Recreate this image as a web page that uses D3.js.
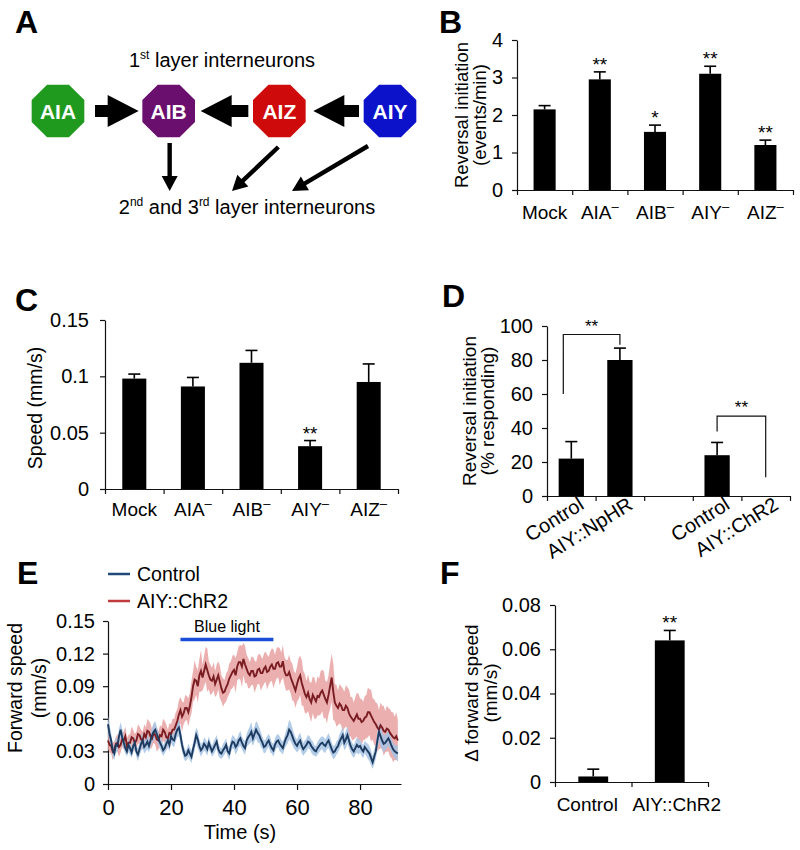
<!DOCTYPE html>
<html><head><meta charset="utf-8">
<script src="https://cdn.jsdelivr.net/npm/d3@7"></script>
<style>body{margin:0;background:#fff} svg{font-family:"Liberation Sans",Arial,Helvetica,sans-serif}</style>
</head><body><svg id="chart" width="800" height="850"></svg>
<script>
// ---------- DATA ----------
const neurons = ["AIA","AIB","AIZ","AIY"];
const neuronColors = ["#1f9a1f","#6a0f6e","#cf0a0a","#0b12c9"];

const bCategories = ["Mock","AIA⁻","AIB⁻","AIY⁻","AIZ⁻"];
const bValues = [2.15,2.95,1.55,3.1,1.2];
const bErrors = [0.1,0.2,0.18,0.2,0.13];
const bStars = ["","**","*","**","**"];
const bTicks = [0,1,2,3,4];

const cCategories = ["Mock","AIA⁻","AIB⁻","AIY⁻","AIZ⁻"];
const cValues = [0.098,0.091,0.112,0.038,0.095];
const cErrors = [0.004,0.008,0.011,0.005,0.016];
const cStars = ["","","","**",""];
const cTicks = [0,0.05,0.1,0.15];

const dCategories = ["Control","AIY::NpHR","","Control","AIY::ChR2"];
const dValues = [22,80,null,24,0];
const dErrors = [10,7,null,7.5,0];
const dTicks = [0,20,40,60,80,100];
// brackets: [leftIndex, rightIndex, leftLegBottom, top, rightLegBottom]
const dBrackets = [[0,1,60,95,89],[3,4,38,47,11]];

const eStep = 0.5; // seconds per sample
const controlMean = [
 0.055,0.046,0.04,0.031,0.028,0.036,0.035,0.044,0.05,0.043,0.038,0.033,0.03,0.036,0.033,0.029,0.035,0.038,0.03,0.027,
 0.032,0.037,0.04,0.034,0.036,0.039,0.035,0.04,0.045,0.048,0.05,0.046,0.042,0.038,0.035,0.031,0.033,0.037,0.04,0.036,
 0.044,0.041,0.04,0.046,0.05,0.052,0.045,0.036,0.03,0.026,0.027,0.031,0.028,0.025,0.032,0.038,0.045,0.041,0.035,0.031,
 0.033,0.037,0.035,0.032,0.038,0.034,0.03,0.033,0.036,0.039,0.032,0.029,0.028,0.031,0.033,0.036,0.03,0.028,0.035,0.039,
 0.038,0.034,0.036,0.04,0.042,0.038,0.035,0.033,0.04,0.043,0.045,0.048,0.042,0.046,0.05,0.047,0.045,0.041,0.038,0.034,
 0.035,0.038,0.04,0.036,0.033,0.031,0.036,0.039,0.04,0.037,0.035,0.033,0.038,0.042,0.045,0.05,0.048,0.044,0.04,0.037,
 0.035,0.038,0.04,0.035,0.032,0.034,0.036,0.039,0.038,0.035,0.033,0.031,0.03,0.033,0.035,0.037,0.038,0.036,0.035,0.038,
 0.04,0.036,0.032,0.029,0.03,0.033,0.035,0.039,0.042,0.045,0.038,0.041,0.045,0.04,0.035,0.032,0.03,0.033,0.036,0.034,
 0.035,0.032,0.03,0.034,0.032,0.03,0.028,0.024,0.02,0.025,0.03,0.04,0.048,0.044,0.04,0.037,0.038,0.04,0.042,0.039,
 0.035,0.032,0.03,0.029,0.028];
const controlSem = [
 0.008,0.008,0.007,0.006,0.006,0.007,0.006,0.007,0.007,0.008,0.006,0.005,0.005,0.006,0.006,0.005,0.006,0.006,0.005,0.006,
 0.006,0.007,0.007,0.006,0.006,0.007,0.006,0.006,0.007,0.008,0.008,0.007,0.006,0.006,0.006,0.005,0.005,0.006,0.006,0.006,
 0.006,0.006,0.006,0.007,0.007,0.008,0.008,0.006,0.006,0.005,0.005,0.006,0.006,0.006,0.006,0.007,0.007,0.008,0.006,0.006,
 0.005,0.006,0.006,0.006,0.006,0.005,0.005,0.006,0.006,0.006,0.006,0.005,0.005,0.006,0.006,0.006,0.005,0.006,0.006,0.006,
 0.006,0.007,0.006,0.006,0.007,0.006,0.006,0.006,0.006,0.007,0.008,0.009,0.007,0.007,0.008,0.009,0.007,0.007,0.006,0.006,
 0.006,0.006,0.006,0.007,0.005,0.006,0.006,0.006,0.006,0.007,0.006,0.006,0.006,0.007,0.008,0.009,0.009,0.008,0.007,0.006,
 0.006,0.007,0.007,0.007,0.006,0.006,0.006,0.006,0.006,0.006,0.006,0.005,0.005,0.006,0.006,0.006,0.006,0.007,0.006,0.006,
 0.007,0.007,0.006,0.006,0.006,0.006,0.006,0.007,0.007,0.008,0.007,0.008,0.008,0.007,0.006,0.006,0.006,0.006,0.007,0.007,
 0.006,0.006,0.006,0.006,0.006,0.007,0.007,0.007,0.006,0.007,0.007,0.008,0.009,0.009,0.008,0.008,0.007,0.007,0.007,0.007,
 0.006,0.006,0.006,0.007,0.007];
const chr2Mean = [
 0.04,0.036,0.035,0.03,0.032,0.037,0.038,0.034,0.036,0.041,0.04,0.044,0.035,0.038,0.038,0.043,0.042,0.038,0.04,0.046,
 0.045,0.041,0.04,0.046,0.043,0.049,0.048,0.044,0.042,0.047,0.045,0.041,0.04,0.045,0.044,0.05,0.048,0.043,0.042,0.047,
 0.046,0.05,0.05,0.054,0.058,0.064,0.068,0.062,0.065,0.07,0.07,0.066,0.072,0.08,0.09,0.096,0.095,0.09,0.1,0.104,
 0.098,0.104,0.11,0.105,0.1,0.096,0.095,0.099,0.092,0.096,0.1,0.094,0.088,0.084,0.085,0.089,0.092,0.097,0.1,0.103,
 0.105,0.1,0.108,0.112,0.112,0.108,0.115,0.11,0.106,0.102,0.1,0.104,0.104,0.099,0.1,0.105,0.106,0.102,0.102,0.106,
 0.108,0.103,0.104,0.108,0.11,0.106,0.106,0.111,0.112,0.108,0.108,0.113,0.104,0.1,0.1,0.103,0.098,0.094,0.09,0.086,
 0.092,0.097,0.1,0.093,0.088,0.083,0.08,0.084,0.078,0.075,0.082,0.079,0.076,0.081,0.08,0.084,0.086,0.082,0.078,0.075,
 0.082,0.09,0.098,0.085,0.075,0.072,0.07,0.074,0.072,0.068,0.068,0.072,0.07,0.065,0.062,0.06,0.058,0.061,0.064,0.06,
 0.06,0.057,0.058,0.061,0.062,0.066,0.066,0.063,0.06,0.057,0.055,0.052,0.05,0.054,0.052,0.049,0.048,0.051,0.05,0.047,
 0.045,0.043,0.042,0.044,0.04];
const chr2Sem = [
 0.008,0.007,0.007,0.008,0.007,0.006,0.008,0.009,0.007,0.007,0.008,0.009,0.007,0.007,0.008,0.01,0.008,0.008,0.008,0.009,
 0.008,0.009,0.008,0.009,0.009,0.011,0.01,0.012,0.008,0.009,0.009,0.011,0.008,0.009,0.009,0.01,0.01,0.012,0.008,0.009,
 0.009,0.01,0.01,0.012,0.011,0.013,0.012,0.014,0.01,0.012,0.011,0.013,0.012,0.015,0.014,0.018,0.013,0.015,0.015,0.019,
 0.012,0.014,0.016,0.02,0.013,0.014,0.012,0.013,0.012,0.014,0.013,0.015,0.012,0.013,0.011,0.013,0.012,0.014,0.013,0.015,
 0.014,0.016,0.013,0.015,0.016,0.019,0.015,0.017,0.013,0.014,0.012,0.013,0.013,0.015,0.012,0.013,0.014,0.016,0.013,0.014,
 0.014,0.016,0.013,0.014,0.015,0.018,0.013,0.014,0.014,0.017,0.013,0.015,0.013,0.014,0.014,0.016,0.015,0.017,0.014,0.016,
 0.016,0.019,0.018,0.021,0.016,0.018,0.015,0.017,0.016,0.018,0.017,0.019,0.016,0.018,0.017,0.02,0.019,0.022,0.017,0.019,
 0.018,0.021,0.022,0.026,0.017,0.019,0.016,0.018,0.018,0.02,0.017,0.019,0.019,0.022,0.018,0.02,0.017,0.019,0.02,0.023,
 0.019,0.021,0.018,0.02,0.02,0.023,0.021,0.024,0.019,0.021,0.02,0.022,0.018,0.021,0.02,0.023,0.019,0.021,0.02,0.022,
 0.021,0.023,0.02,0.022,0.019];
const eXTicks = [0,20,40,60,80];
const eYTicks = [0,0.03,0.06,0.09,0.12,0.15];
const blueLight = [23,52.5];
const blueLightLevel = 0.133;
const eSeries = ["Control","AIY::ChR2"];

const fCategories = ["Control","AIY::ChR2"];
const fValues = [0.0025,0.064];
const fErrors = [0.0033,0.0045];
const fStars = ["","**"];
const fTicks = [0,0.02,0.04,0.06,0.08];

// ---------- HELPERS ----------
const svg = d3.select("#chart");
function letter(t,x,y){
  svg.append("text").attr("x",x).attr("y",y).attr("font-size",32).attr("font-weight","bold").text(t);
}
function yLabel(lines, xs, cy, size){
  lines.forEach((l,i)=>svg.append("text")
    .attr("transform",`translate(${xs[i]},${cy}) rotate(-90)`)
    .attr("text-anchor","middle").attr("font-size",size).text(l));
}
function setLabel(sel,label){
  const parts = label.split("⁻");
  sel.text(parts[0]);
  if(parts.length>1){
    sel.append("tspan").attr("dy",-8).attr("font-size",13).text("–");
  }
}
function styleAxis(g){
  g.selectAll("path.domain").attr("stroke","#111").attr("stroke-width",1.2);
  g.selectAll(".tick line").attr("stroke","#111").attr("stroke-width",1.2);
  g.selectAll("text").attr("fill","#000").attr("font-family","'Liberation Sans',Arial,sans-serif");
}

function barChart(o){
  const n = o.cats.length;
  const x = d3.scaleBand().domain(d3.range(n)).range(o.xr);
  const xb = d3.scaleLinear().domain([0,n]).range(o.xr);
  const y = d3.scaleLinear().domain(o.ydom).range(o.yr);
  const gy = svg.append("g").attr("transform",`translate(${o.xr[0]},0)`)
    .call(d3.axisLeft(y).tickValues(o.yticks).tickFormat(o.yfmt).tickSizeInner(5).tickSizeOuter(0).tickPadding(o.ypad||9));
  gy.selectAll("text").attr("font-size",o.yfs||20);
  styleAxis(gy);
  const gx = svg.append("g").attr("transform",`translate(0,${o.yr[0]})`)
    .call(d3.axisBottom(xb).tickValues(d3.range(n+1)).tickFormat("").tickSizeInner(5).tickSizeOuter(0));
  styleAxis(gx);
  if(!o.rotate){
    const gl = svg.append("g").attr("transform",`translate(0,${o.yr[0]})`)
      .call(d3.axisBottom(x).tickSize(0).tickPadding(o.xpad||15).tickFormat(i=>o.cats[i]));
    gl.select("path.domain").remove();
    gl.selectAll("text").attr("font-size",o.xfs||19).each(function(i){ setLabel(d3.select(this),o.cats[i]); });
    if(o.labelShift) gl.selectAll("text").attr("dx",i=>o.labelShift[i]);
    styleAxis(gl);
  } else {
    svg.append("g").selectAll("text").data(d3.range(n).filter(i=>o.cats[i])).join("text")
      .attr("transform",i=>`translate(${x(i)+x.bandwidth()/2+o.rotate.dx},${o.yr[0]+o.rotate.dy}) rotate(${o.rotate.angle})`)
      .attr("text-anchor","end").attr("font-size",o.xfs||19).text(i=>o.cats[i]);
  }
  const bw = x.bandwidth()*o.barFrac;
  const idx = d3.range(n).filter(i=>o.vals[i]!==null);
  svg.append("g").selectAll("rect").data(idx).join("rect")
    .attr("x",i=>x(i)+(x.bandwidth()-bw)/2).attr("width",bw)
    .attr("y",i=>y(o.vals[i])).attr("height",i=>y(0)-y(o.vals[i])).attr("fill","#000");
  const eg = svg.append("g").attr("stroke","#000").attr("stroke-width",1.6);
  idx.filter(i=>o.errs[i]>0).forEach(i=>{
    const cx = x(i)+x.bandwidth()/2;
    eg.append("line").attr("x1",cx).attr("x2",cx).attr("y1",y(o.vals[i])).attr("y2",y(o.vals[i]+o.errs[i]));
    eg.append("line").attr("x1",cx-6).attr("x2",cx+6).attr("y1",y(o.vals[i]+o.errs[i])).attr("y2",y(o.vals[i]+o.errs[i]));
  });
  if(o.stars){
    svg.append("g").selectAll("text").data(idx.filter(i=>o.stars[i])).join("text")
      .attr("x",i=>x(i)+x.bandwidth()/2).attr("y",i=>y(o.vals[i]+o.errs[i])-1)
      .attr("text-anchor","middle").attr("font-size",19).text(i=>o.stars[i]);
  }
  return {x,y};
}

// ---------- PANEL A ----------
letter("A",15,33);
const px = d3.scalePoint().domain(neurons).range([58,390]);
const cyA = 111, rOct = 28.5;
function octagon(cx,cy,r){
  return d3.range(8).map(k=>{const a=(22.5+45*k)*Math.PI/180; return [cx+r*Math.cos(a), cy+r*Math.sin(a)];});
}
function blockArrow(x1,y1,x2,y2,sw,hw,hl,fill){
  const dx=x2-x1, dy=y2-y1, L=Math.hypot(dx,dy), ux=dx/L, uy=dy/L, nx=-uy, ny=ux;
  const bx=x2-ux*hl, by=y2-uy*hl;
  const pts=[[x1+nx*sw,y1+ny*sw],[bx+nx*sw,by+ny*sw],[bx+nx*hw,by+ny*hw],[x2,y2],[bx-nx*hw,by-ny*hw],[bx-nx*sw,by-ny*sw],[x1-nx*sw,y1-ny*sw]];
  svg.append("polygon").attr("points",pts.map(p=>p.join(",")).join(" ")).attr("fill",fill||"#000");
}
const tA1 = svg.append("text").attr("x",222).attr("y",67).attr("text-anchor","middle").attr("font-size",20);
tA1.append("tspan").text("1");
tA1.append("tspan").attr("dy",-8).attr("font-size",12).text("st");
tA1.append("tspan").attr("dy",8).text(" layer interneurons");
neurons.forEach((nm,i)=>{
  svg.append("polygon").attr("points",octagon(px(nm),cyA,rOct).map(p=>p.join(",")).join(" ")).attr("fill",neuronColors[i]);
  svg.append("text").attr("x",px(nm)).attr("y",cyA+7.5).attr("text-anchor","middle").attr("font-size",21)
    .attr("font-weight","bold").attr("fill","#fff").text(nm);
});
blockArrow(px("AIA")+37,cyA,px("AIB")-30,cyA,6,16,31);
blockArrow(px("AIZ")-31,cyA,px("AIB")+32,cyA,6,16,31);
blockArrow(px("AIY")-31,cyA,px("AIZ")+34,cyA,6,16,31);
blockArrow(px("AIB")+1,143,px("AIB")+1,191,2.2,8,15);
blockArrow(px("AIZ")-1,147,232,191,2.2,8,15);
blockArrow(px("AIY")-22,146,292,191,2.2,8,15);
const tA2 = svg.append("text").attr("x",247).attr("y",214).attr("text-anchor","middle").attr("font-size",20);
tA2.append("tspan").text("2");
tA2.append("tspan").attr("dy",-8).attr("font-size",12).text("nd");
tA2.append("tspan").attr("dy",8).text(" and 3");
tA2.append("tspan").attr("dy",-8).attr("font-size",12).text("rd");
tA2.append("tspan").attr("dy",8).text(" layer interneurons");

// ---------- PANEL B ----------
letter("B",439,33);
barChart({cats:bCategories, vals:bValues, errs:bErrors, stars:bStars, xr:[517,793], yr:[190,40],
  ydom:[0,4], yticks:bTicks, yfmt:d3.format("d"), barFrac:0.4, xpad:16});
yLabel(["Reversal initiation","(events/min)"],[468,486],115,18.5);

// ---------- PANEL C ----------
letter("C",15,311);
barChart({cats:cCategories, vals:cValues, errs:cErrors, stars:cStars, xr:[105,398], yr:[489,320],
  ydom:[0,0.15], yticks:cTicks, yfmt:d=>d===0?"0":String(d), barFrac:0.41, ypad:11, xpad:14});
yLabel(["Speed (mm/s)"],[42],408,19.5);

// ---------- PANEL D ----------
letter("D",442,307);
const dS = barChart({cats:dCategories, vals:dValues, errs:dErrors, xr:[547,790], yr:[496,326],
  ydom:[0,100], yticks:dTicks, yfmt:d3.format("d"), barFrac:0.52,
  rotate:{angle:-32, dx:14, dy:12}, xfs:20});
dBrackets.forEach(b=>{
  const xl = dS.x(b[0])+dS.x.bandwidth()/2 - (b[0]===0?8:0);
  const xr2 = dS.x(b[1])+dS.x.bandwidth()/2;
  svg.append("path").attr("d",`M${xl},${dS.y(b[2])}V${dS.y(b[3])}H${xr2}V${dS.y(b[4])}`)
    .attr("fill","none").attr("stroke","#111").attr("stroke-width",1.2);
  svg.append("text").attr("x",(xl+xr2)/2).attr("y",dS.y(b[3])-3).attr("text-anchor","middle").attr("font-size",17).text("**");
});
yLabel(["Reversal initiation","(% responding)"],[476,494],411,19);

// ---------- PANEL E ----------
letter("E",17,584);
const ex = d3.scaleLinear().domain([0,93]).range([108,401]);
const ey = d3.scaleLinear().domain([0,0.15]).range([784,621]);
const eT = controlMean.map((_,i)=>i*eStep);
const gEy = svg.append("g").attr("transform",`translate(${ex(0)},0)`)
  .call(d3.axisLeft(ey).tickValues(eYTicks).tickFormat(d=>d===0?"0":d3.format(".2f")(d)).tickSizeInner(5).tickSizeOuter(0).tickPadding(8));
gEy.selectAll("text").attr("font-size",20);
styleAxis(gEy);
const gEx = svg.append("g").attr("transform",`translate(0,${ey(0)})`)
  .call(d3.axisBottom(ex).tickValues(eXTicks).tickFormat(d3.format("d")).tickSizeInner(6).tickSizeOuter(0).tickPadding(9));
gEx.selectAll("text").attr("font-size",22);
styleAxis(gEx);
const areaGen = (m,s)=>d3.area().x((d,i)=>ex(eT[i])).y0((d,i)=>ey(m[i]-s[i])).y1((d,i)=>ey(m[i]+s[i]))(m);
const lineGen = m=>d3.line().x((d,i)=>ex(eT[i])).y((d,i)=>ey(m[i]))(m);
svg.append("path").attr("d",areaGen(chr2Mean,chr2Sem)).attr("fill","#e9a1a1").attr("opacity",0.85);
svg.append("path").attr("d",areaGen(controlMean,controlSem)).attr("fill","#a6c3e4").attr("opacity",0.85);
svg.append("path").attr("d",lineGen(chr2Mean)).attr("fill","none").attr("stroke","#7a1d22").attr("stroke-width",1.9);
svg.append("path").attr("d",lineGen(controlMean)).attr("fill","none").attr("stroke","#1d3a5f").attr("stroke-width",1.9);
svg.append("line").attr("x1",ex(blueLight[0])).attr("x2",ex(blueLight[1])).attr("y1",ey(blueLightLevel)).attr("y2",ey(blueLightLevel))
  .attr("stroke","#1a4ed8").attr("stroke-width",3.5);
svg.append("text").attr("x",(ex(blueLight[0])+ex(blueLight[1]))/2).attr("y",ey(blueLightLevel)-7).attr("text-anchor","middle").attr("font-size",16).text("Blue light");
const legColors = ["#1f4a7a","#c0393b"];
eSeries.forEach((s,i)=>{
  const yy = 574 + i*27;
  svg.append("line").attr("x1",108).attr("x2",130).attr("y1",yy).attr("y2",yy).attr("stroke",legColors[i]).attr("stroke-width",2.5);
  svg.append("text").attr("x",137).attr("y",yy+7).attr("font-size",19.5).text(s);
});
svg.append("text").attr("x",240).attr("y",839).attr("text-anchor","middle").attr("font-size",20).text("Time (s)");
yLabel(["Forward speed","(mm/s)"],[22,46],688,19.5);

// ---------- PANEL F ----------
letter("F",440,584);
barChart({cats:fCategories, vals:fValues, errs:fErrors, stars:fStars, xr:[555,708], yr:[782,605],
  ydom:[0,0.08], yticks:fTicks, yfmt:d=>d===0?"0":d3.format(".2f")(d), barFrac:0.39, ypad:9, xpad:16,
  labelShift:[-6,7]});
yLabel(["Δ forward speed","(mm/s)"],[478,497],693,19);
</script></body></html>
